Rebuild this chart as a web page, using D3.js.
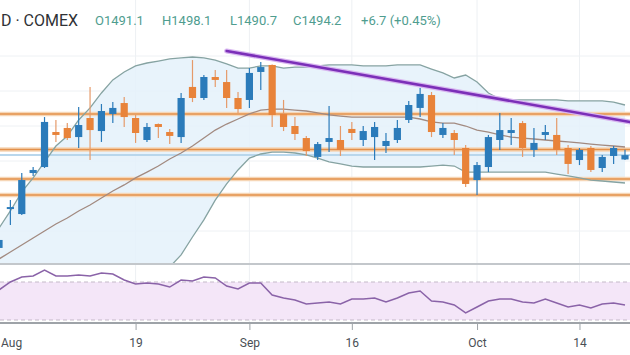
<!DOCTYPE html>
<html><head><meta charset="utf-8">
<script src="https://cdn.jsdelivr.net/npm/d3@7"></script>
<style>body{margin:0;background:#fff}svg{display:block}</style>
</head><body><svg id="c" width="630" height="355"></svg>
<script>
const dates = [
"2019-08-01","2019-08-02","2019-08-05","2019-08-06","2019-08-07","2019-08-08","2019-08-09","2019-08-12","2019-08-13","2019-08-14","2019-08-15","2019-08-16","2019-08-19","2019-08-20","2019-08-21","2019-08-22","2019-08-23","2019-08-26","2019-08-27","2019-08-28","2019-08-29","2019-08-30",
"2019-09-03","2019-09-04","2019-09-05","2019-09-06","2019-09-09","2019-09-10","2019-09-11","2019-09-12","2019-09-13","2019-09-16","2019-09-17","2019-09-18","2019-09-19","2019-09-20","2019-09-23","2019-09-24","2019-09-25","2019-09-26","2019-09-27","2019-09-30",
"2019-10-01","2019-10-02","2019-10-03","2019-10-04","2019-10-07","2019-10-08","2019-10-09","2019-10-10","2019-10-11","2019-10-14","2019-10-15","2019-10-16","2019-10-17","2019-10-18"];
const open  = [1427.9,1455.7,1452.1,1481.4,1485.7,1510.7,1513.6,1507.1,1520.7,1511.4,1523.6,1531.4,1520.7,1505.0,1516.4,1510.7,1507.1,1542.9,1535.0,1550.0,1546.4,1535.0,1533.6,1553.6,1558.6,1523.6,1515.0,1506.4,1492.9,1503.6,1505.0,1512.9,1505.0,1507.1,1500.7,1505.0,1519.3,1527.9,1537.1,1508.6,1510.0,1499.3,1476.4,1485.7,1505.0,1510.0,1517.1,1497.9,1508.6,1508.6,1499.3,1490.7,1499.3,1485.0,1493.6,1491.1];
const high  = [1436.4,1462.1,1481.4,1485.7,1521.4,1519.3,1517.1,1528.6,1542.9,1530.7,1532.1,1535.7,1522.9,1517.1,1516.8,1512.9,1538.6,1562.1,1551.4,1555.0,1555.0,1539.3,1556.4,1560.7,1559.0,1533.6,1521.4,1507.9,1503.6,1529.3,1515.0,1517.9,1515.0,1517.9,1510.0,1519.3,1532.9,1542.1,1539.3,1517.1,1512.1,1501.4,1489.3,1508.6,1524.3,1520.7,1518.6,1513.6,1515.7,1520.7,1501.4,1499.3,1500.7,1494.3,1500.7,1498.1];
const low   = [1425.0,1444.3,1451.4,1479.3,1485.0,1503.6,1505.0,1499.3,1490.7,1503.6,1517.1,1514.3,1502.9,1503.6,1506.4,1502.1,1502.9,1532.1,1533.6,1542.9,1527.9,1524.3,1527.9,1540.7,1514.3,1511.4,1505.0,1493.6,1490.7,1496.4,1493.6,1505.0,1500.7,1490.7,1495.7,1502.9,1517.1,1521.4,1507.1,1506.4,1494.3,1471.4,1465.7,1482.1,1497.9,1501.4,1492.9,1492.9,1505.0,1494.3,1480.7,1487.1,1482.1,1482.1,1487.9,1490.7];
const close = [1433.6,1457.1,1476.4,1483.6,1517.9,1508.6,1506.4,1515.7,1512.1,1525.7,1527.9,1521.4,1510.0,1514.3,1514.3,1507.9,1535.0,1535.0,1550.0,1547.9,1535.0,1527.1,1552.9,1557.1,1522.9,1514.3,1509.3,1497.1,1502.1,1506.4,1497.9,1510.0,1511.4,1514.3,1504.3,1513.6,1530.0,1537.9,1510.7,1513.6,1505.0,1473.6,1487.1,1507.1,1512.1,1512.1,1499.3,1502.9,1510.7,1497.9,1487.9,1497.9,1483.6,1492.9,1499.3,1494.2];
const bbUpper = [1442.1,1454.3,1467.9,1477.9,1489.3,1500.7,1507.9,1519.3,1527.9,1538.6,1547.9,1553.6,1557.9,1560.0,1561.4,1562.9,1563.6,1564.3,1563.6,1562.1,1559.3,1556.4,1556.4,1557.9,1557.9,1556.4,1557.1,1557.1,1557.9,1558.6,1558.6,1558.6,1557.9,1557.9,1557.9,1558.6,1558.6,1558.6,1555.7,1552.9,1549.3,1551.4,1546.4,1538.6,1534.3,1533.6,1533.6,1533.6,1533.6,1533.6,1532.9,1532.9,1532.9,1532.9,1532.1,1530.0];
const bbBasis = [1420.0,1425.0,1430.0,1435.0,1440.0,1445.0,1449.3,1454.3,1458.6,1463.6,1468.6,1472.9,1477.9,1482.1,1486.4,1491.4,1495.7,1500.7,1506.4,1512.1,1516.4,1520.0,1523.6,1526.4,1527.1,1527.1,1526.4,1525.7,1524.3,1522.9,1522.1,1521.4,1521.4,1521.4,1521.4,1521.4,1521.4,1520.0,1517.9,1517.1,1517.1,1515.0,1512.1,1510.7,1508.6,1507.1,1506.4,1505.7,1505.0,1504.3,1503.6,1502.9,1502.1,1501.4,1500.7,1500.0];
const bbLower = [1397.9,1395.7,1392.1,1392.1,1390.7,1389.3,1390.7,1389.3,1389.3,1388.6,1389.3,1392.1,1397.9,1404.3,1408.6,1414.3,1422.9,1435.7,1447.9,1462.1,1473.6,1483.6,1492.1,1495.0,1496.4,1496.4,1495.7,1494.3,1492.1,1489.3,1487.9,1486.4,1485.7,1485.7,1485.7,1485.7,1485.7,1485.7,1486.4,1487.1,1486.4,1482.1,1482.1,1482.1,1482.1,1482.1,1482.1,1482.1,1482.1,1480.7,1479.3,1477.9,1476.4,1475.7,1475.0,1474.3];
const rsi = [61.6,70.0,75.3,76.3,82.6,76.3,76.3,77.4,76.3,79.5,78.4,72.1,67.9,68.9,67.9,64.7,72.1,71.1,75.3,74.2,65.8,62.6,68.9,68.9,56.3,53.2,51.1,46.8,47.9,48.9,46.8,52.1,52.1,53.2,48.9,53.2,58.4,60.5,50.0,48.9,45.8,37.4,43.7,50.0,52.1,52.1,48.9,47.9,52.1,47.9,43.7,45.8,42.6,46.8,47.9,45.8];
const levels = [1523.6, 1498.2, 1477.1, 1465.7];
const gridPrices = [1440, 1465, 1490, 1515, 1540, 1565];
const trendDates = ["2019-08-29", "2019-10-18"];
const trendPrices = [1568.6, 1518.5];
const tickDates = ["2019-08-01","2019-08-19","2019-09-03","2019-09-16","2019-10-01","2019-10-14"];
const tickLabels = ["Aug","19","Sep","16","Oct","14"];
const headerSymbol = "D · COMEX";
const headerValues = ["O1491.1","H1498.1","L1490.7","C1494.2","+6.7 (+0.45%)"];

const W = 630, H = 355, mainBottom = 263, rsiTop = 265, rsiBottom = 323;
const svg = d3.select("#c");
const x = d3.scalePoint().domain(dates).range([-1, 625]);
const y = d3.scaleLinear().domain([1400, 1600]).range([287, 7]);
const yr = d3.scaleLinear().domain([30, 70]).range([320, 282]);
const UP = "#2b7bba", DN = "#e8833a";

const defs = svg.append("defs");
defs.append("clipPath").attr("id","mainClip").append("rect").attr("x",0).attr("y",0).attr("width",W).attr("height",mainBottom);
defs.append("clipPath").attr("id","rsiClip").append("rect").attr("x",0).attr("y",rsiTop).attr("width",W).attr("height",rsiBottom-rsiTop);

svg.append("rect").attr("width",W).attr("height",H).attr("fill","#ffffff");

// vertical grid
svg.append("g").selectAll("line").data(tickDates).join("line")
  .attr("x1",d=>x(d)).attr("x2",d=>x(d)).attr("y1",0).attr("y2",rsiBottom)
  .attr("stroke","#edf0f3").attr("stroke-width",1);

const main = svg.append("g").attr("clip-path","url(#mainClip)");
main.append("g").selectAll("line").data(gridPrices).join("line")
  .attr("x1",0).attr("x2",W).attr("y1",d=>y(d)).attr("y2",d=>y(d))
  .attr("stroke","#eef1f4").attr("stroke-width",1);

const idx = d3.range(dates.length);
main.append("path").datum(idx)
  .attr("d", d3.area().x(i=>x(dates[i])).y0(i=>y(bbLower[i])).y1(i=>y(bbUpper[i])))
  .attr("fill","#e4f1fa").attr("opacity",0.85);

main.append("line").attr("x1",0).attr("x2",W)
  .attr("y1",y(close[close.length-1])).attr("y2",y(close[close.length-1]))
  .attr("stroke","#b9d7ec").attr("stroke-width",2);

const lv = main.append("g");
lv.selectAll("line.halo").data(levels).join("line").attr("class","halo")
  .attr("x1",0).attr("x2",W).attr("y1",d=>y(d)).attr("y2",d=>y(d))
  .attr("stroke","#f6d6b6").attr("stroke-width",4.5);
lv.selectAll("line.core").data(levels).join("line").attr("class","core")
  .attr("x1",0).attr("x2",W).attr("y1",d=>y(d)).attr("y2",d=>y(d))
  .attr("stroke","#e3904a").attr("stroke-width",1.6);

const bl = (arr) => d3.line().x(i=>x(dates[i])).y(i=>y(arr[i]))(idx);
main.append("path").attr("d",bl(bbUpper)).attr("fill","none").attr("stroke","#86a3a2").attr("stroke-width",1.3);
main.append("path").attr("d",bl(bbLower)).attr("fill","none").attr("stroke","#86a3a2").attr("stroke-width",1.3);
main.append("path").attr("d",bl(bbBasis)).attr("fill","none").attr("stroke","#a28a80").attr("stroke-width",1.3);

const cg = main.append("g").selectAll("g").data(idx).join("g");
cg.append("line")
  .attr("x1",i=>x(dates[i])).attr("x2",i=>x(dates[i]))
  .attr("y1",i=>y(high[i])).attr("y2",i=>y(low[i]))
  .attr("stroke",i=>close[i]>=open[i]?UP:"#e59a6a").attr("stroke-width",1.2);
cg.append("rect")
  .attr("x",i=>x(dates[i])-3.6).attr("width",7.2)
  .attr("y",i=>y(Math.max(open[i],close[i])))
  .attr("height",i=>Math.max(2,Math.abs(y(open[i])-y(close[i]))))
  .attr("fill",i=>close[i]>=open[i]?UP:DN);

const tx1 = x(trendDates[0]), ty1 = y(trendPrices[0]);
const tx2 = x(trendDates[1]), ty2 = y(trendPrices[1]);
const slope = (ty2-ty1)/(tx2-tx1);
main.append("line").attr("x1",tx1).attr("y1",ty1).attr("x2",W).attr("y2",ty1+slope*(W-tx1))
  .attr("stroke","#d8b6f0").attr("stroke-width",5).attr("stroke-linecap","round");
main.append("line").attr("x1",tx1).attr("y1",ty1).attr("x2",W).attr("y2",ty1+slope*(W-tx1))
  .attr("stroke","#7b2fb8").attr("stroke-width",2.6).attr("stroke-linecap","round");

const rp = svg.append("g").attr("clip-path","url(#rsiClip)");
rp.append("rect").attr("x",0).attr("width",W).attr("y",yr(70)).attr("height",yr(30)-yr(70)).attr("fill","#f4e6f8");
rp.selectAll("line.lvl").data([70,30]).join("line").attr("class","lvl")
  .attr("x1",0).attr("x2",W).attr("y1",d=>yr(d)).attr("y2",d=>yr(d))
  .attr("stroke","#c4b9c8").attr("stroke-width",1).attr("stroke-dasharray","4,3");
rp.append("path").attr("d", d3.line().x(i=>x(dates[i])).y(i=>yr(rsi[i]))(idx))
  .attr("fill","none").attr("stroke","#8a63a8").attr("stroke-width",1.5);

svg.append("line").attr("x1",0).attr("x2",W).attr("y1",264).attr("y2",264).attr("stroke","#c3c7cb").attr("stroke-width",2.2);
svg.append("line").attr("x1",0).attr("x2",W).attr("y1",323).attr("y2",323).attr("stroke","#9ea3a8").attr("stroke-width",2.2);

const axis = d3.axisBottom(x).tickValues(tickDates).tickFormat((d,i)=>tickLabels[i]).tickSize(6).tickPadding(8);
const ag = svg.append("g").attr("transform","translate(0,324)").call(axis);
ag.select(".domain").remove();
ag.selectAll(".tick line").attr("stroke","#9ea3a8");
ag.selectAll(".tick text").attr("fill","#4a4f55").style("font-family","Roboto, 'Noto Sans', sans-serif").style("font-size","12px");
// keep the first label inside the picture
ag.selectAll(".tick text").filter((d,i)=>i===0).attr("text-anchor","start").attr("dx", 1.5);

const hd = svg.append("g").style("font-family","Roboto, 'Noto Sans', sans-serif");
hd.append("text").attr("x",1).attr("y",26).text(headerSymbol).attr("fill","#2f3236").style("font-size","16px");
const hx = [95,162,230,293,361];
hd.selectAll("text.v").data(headerValues).join("text").attr("class","v")
  .attr("x",(d,i)=>hx[i]).attr("y",25).text(d=>d).attr("fill","#4f9d8f").style("font-size","13px");
</script></body></html>
